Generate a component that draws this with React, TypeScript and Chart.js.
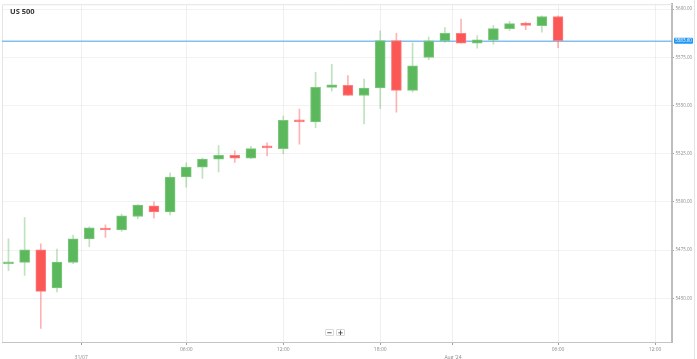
import React, { useEffect, useRef } from "react";
import { Chart, registerables } from "chart.js";

Chart.register(...registerables);

// Hourly candles: 30/07 18:00 .. 22:00, 31/07 00:00 .. 22:00, 01/08 00:00 .. 06:00
const candleTimes = [
  "30/07 18:00", "30/07 19:00", "30/07 20:00", "30/07 21:00", "30/07 22:00",
  "31/07 00:00", "31/07 01:00", "31/07 02:00", "31/07 03:00", "31/07 04:00", "31/07 05:00",
  "31/07 06:00", "31/07 07:00", "31/07 08:00", "31/07 09:00", "31/07 10:00", "31/07 11:00",
  "31/07 12:00", "31/07 13:00", "31/07 14:00", "31/07 15:00", "31/07 16:00", "31/07 17:00",
  "31/07 18:00", "31/07 19:00", "31/07 20:00", "31/07 21:00", "31/07 22:00",
  "01/08 00:00", "01/08 01:00", "01/08 02:00", "01/08 03:00", "01/08 04:00", "01/08 05:00", "01/08 06:00",
];

const opens = [
  5467.8, 5468.6, 5475.1, 5455.4, 5468.6, 5480.8, 5486.2, 5485.4, 5492.4, 5497.9,
  5494.8, 5512.9, 5518.0, 5522.2, 5524.2, 5522.7, 5528.2, 5527.6, 5542.4, 5541.5,
  5559.4, 5560.5, 5555.2, 5559.1, 5583.7, 5557.9, 5575.0, 5583.6, 5587.5, 5582.3,
  5583.9, 5589.9, 5592.8, 5591.4, 5596.2,
];
const highs = [
  5480.8, 5491.8, 5478.2, 5475.5, 5482.8, 5487.1, 5488.1, 5493.7, 5498.6, 5500.0,
  5515.1, 5520.3, 5522.7, 5529.2, 5526.5, 5528.8, 5530.7, 5544.5, 5548.2, 5567.2,
  5571.4, 5565.6, 5563.7, 5588.8, 5587.4, 5582.6, 5585.5, 5590.5, 5594.8, 5586.3,
  5591.6, 5593.7, 5593.3, 5596.6, 5596.6,
];
const lows = [
  5464.3, 5461.9, 5434.4, 5453.3, 5467.9, 5476.8, 5481.6, 5484.7, 5491.2, 5491.6,
  5493.3, 5507.7, 5512.2, 5515.5, 5520.5, 5522.4, 5523.9, 5525.0, 5529.9, 5538.5,
  5557.4, 5555.2, 5540.5, 5548.5, 5546.5, 5556.9, 5573.8, 5582.8, 5582.3, 5579.8,
  5581.9, 5588.9, 5589.4, 5588.1, 5580.0,
];
const closes = [
  5468.6, 5475.1, 5453.6, 5468.8, 5480.8, 5486.6, 5485.4, 5492.8, 5498.3, 5494.8,
  5512.9, 5518.0, 5522.2, 5524.2, 5522.7, 5527.6, 5528.0, 5542.3, 5541.5, 5559.4,
  5560.8, 5555.2, 5559.1, 5583.7, 5557.9, 5570.6, 5583.6, 5587.5, 5582.3, 5584.1,
  5589.9, 5592.5, 5591.6, 5596.2, 5583.6,
];

const xTickPositions = [4.5, 11, 17, 23, 27.5, 34, 40];
const xTickLabels = ["31/07", "06:00", "12:00", "18:00", "Aug '24", "06:00", "12:00"];
const xTickIsDay = [true, false, false, false, true, false, false];
const yTickValues = [5450, 5475, 5500, 5525, 5550, 5575, 5600];

const GREEN = "#5cb85c";
const GREEN_EDGE = "#7ec87e";
const GREEN_WICK = "rgba(92,184,92,0.4)";
const RED = "#fb5757";
const RED_EDGE = "#fd8080";
const RED_WICK = "rgba(251,87,87,0.45)";

export default function App() {
  const ref = useRef<HTMLCanvasElement>(null);

  useEffect(() => {
    if (!ref.current) return;
    const up = opens.map((o, i) => closes[i] >= o);
    const lastClose = closes[closes.length - 1];

    const framePlugin = {
      id: "frame",
      beforeDatasetsDraw(chart: any) {
        const { ctx, chartArea, scales } = chart;
        ctx.save();
        ctx.strokeStyle = "#e4e4e4";
        ctx.lineWidth = 1;
        ctx.beginPath();
        ctx.moveTo(chartArea.left + 0.5, chartArea.bottom);
        ctx.lineTo(chartArea.left + 0.5, chartArea.top + 0.5);
        ctx.lineTo(chartArea.right, chartArea.top + 0.5);
        ctx.stroke();
        ctx.beginPath();
        ctx.moveTo(chart.width - 2.5, 0);
        ctx.lineTo(chart.width - 2.5, chart.height);
        ctx.stroke();
        const y = scales.y.getPixelForValue(lastClose);
        ctx.fillStyle = "rgba(100,175,235,0.8)";
        ctx.fillRect(chartArea.left, Math.round(y) - 0.5, chartArea.right - chartArea.left, 1.5);
        ctx.restore();
      },
      afterDraw(chart: any) {
        const { ctx, chartArea, scales } = chart;
        const y = scales.y.getPixelForValue(lastClose);
        const x = chartArea.right + 2;
        ctx.save();
        ctx.fillStyle = "#2196f3";
        ctx.beginPath();
        (ctx as any).roundRect(x, y - 3, 19, 6, 1);
        ctx.fill();
        ctx.fillStyle = "#ffffff";
        ctx.font = "4.5px 'Open Sans', sans-serif";
        ctx.textBaseline = "middle";
        ctx.textAlign = "center";
        ctx.fillText(lastClose.toFixed(2), x + 9.5, y + 0.3);
        ctx.restore();
      },
    };

    const chart = new Chart(ref.current, {
      type: "bar",
      data: {
        labels: candleTimes,
        datasets: [
          {
            label: "body",
            data: opens.map((o, i) => ({ x: i, y: [o, closes[i]] })) as any,
            backgroundColor: up.map((u) => (u ? GREEN : RED)),
            borderColor: up.map((u) => (u ? GREEN_EDGE : RED_EDGE)),
            borderWidth: 1,
            borderSkipped: false,
            barThickness: 10,
            minBarLength: 2,
            grouped: false,
            order: 0,
          } as any,
          {
            label: "wick",
            data: lows.map((l, i) => ({ x: i, y: [l, highs[i]] })) as any,
            backgroundColor: up.map((u) => (u ? GREEN_WICK : RED_WICK)),
            borderWidth: 0,
            barThickness: 1,
            grouped: false,
            order: 1,
          } as any,
        ],
      },
      options: {
        responsive: false,
        animation: false,
        maintainAspectRatio: false,
        layout: { padding: { left: 2, top: 2, right: 0, bottom: 0 } },
        plugins: {
          legend: { display: false },
          tooltip: { enabled: false },
          title: { display: false },
        },
        scales: {
          x: {
            type: "linear",
            min: -0.4,
            max: 41.05,
            offset: false,
            afterBuildTicks: (scale: any) => {
              scale.ticks = xTickPositions.map((v) => ({ value: v }));
            },
            afterFit: (scale: any) => {
              scale.height = 17;
            },
            ticks: {
              autoSkip: false,
              maxRotation: 0,
              padding: 1,
              color: "#8a8a8a",
              font: { size: 5, family: "'Open Sans', sans-serif", lineHeight: 1.5 },
              callback: (_v: any, i: number) =>
                xTickIsDay[i] ? ["", xTickLabels[i]] : xTickLabels[i],
            },
            grid: {
              offset: false,
              color: "rgba(0,0,0,0.06)",
              tickColor: "#a0a0a0",
              tickLength: 3,
            },
            border: { color: "#c4c4c4", width: 1 },
          },
          y: {
            type: "linear",
            position: "right",
            min: 5427.3,
            max: 5602.58,
            afterBuildTicks: (scale: any) => {
              scale.ticks = yTickValues.map((v) => ({ value: v }));
            },
            afterFit: (scale: any) => {
              scale.width = 25;
            },
            ticks: {
              padding: 1.5,
              color: "#8a8a8a",
              font: { size: 4.5, family: "'Open Sans', sans-serif" },
              callback: (v: any) => Number(v).toFixed(2),
            },
            grid: {
              color: "rgba(0,0,0,0.05)",
              tickColor: "#a0a0a0",
              tickLength: 2,
            },
            border: { color: "#bdbdbd", width: 2 },
          },
        },
      } as any,
      plugins: [framePlugin],
    });
    return () => chart.destroy();
  }, []);

  const btn: React.CSSProperties = {
    position: "absolute",
    top: 329,
    width: 9,
    height: 7,
    border: "1px solid #d8d8d8",
    borderRadius: 1,
    background: "#fff",
    fontFamily: "'DejaVu Sans', sans-serif",
    fontWeight: "bold",
    fontSize: 7,
    lineHeight: "7px",
    textAlign: "center",
    color: "#333",
    boxSizing: "border-box",
  };

  return (
    <div style={{ position: "absolute", left: 0, top: 0, width: 697, height: 359, background: "#fff" }}>
      <canvas ref={ref} width={697} height={359} style={{ display: "block", width: 697, height: 359 }} />
      <div
        style={{
          position: "absolute",
          left: 10,
          top: 7,
          fontFamily: "'Open Sans', sans-serif",
          fontWeight: 700,
          fontSize: 7.5,
          lineHeight: "9px",
          color: "#333",
        }}
      >
        US 500
      </div>
      <div style={{ ...btn, left: 325 }}>−</div>
      <div style={{ ...btn, left: 336 }}>+</div>
    </div>
  );
}
